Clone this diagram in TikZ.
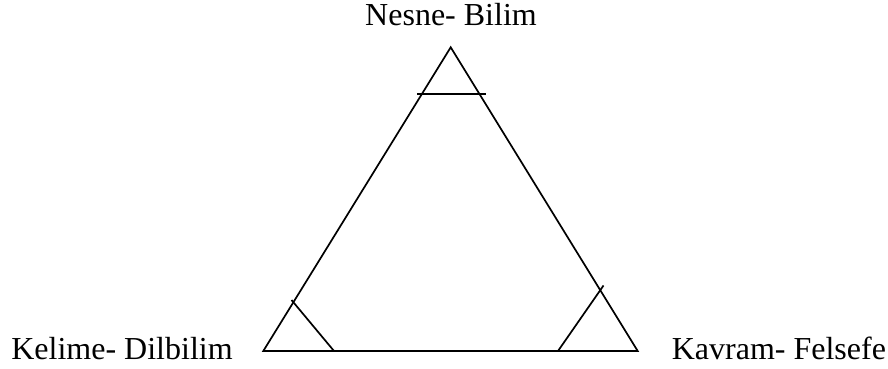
\documentclass[tikz,border=0pt]{standalone}
\usepackage{fontspec}
\setmainfont{Liberation Serif}
\usepackage{tikz}
\usetikzlibrary{positioning}

\begin{document}
\begin{tikzpicture}[x=1pt, y=-1pt, line width=1.7pt,
    term/.style={font=\fontsize{32}{37}\selectfont, inner sep=0pt}]
    \useasboundingbox (0,0) rectangle (888,369);
    % corners of the triangle
    \coordinate (apex) at (450.7,47.3);
    \coordinate (lcorner) at (263.3,351);
    \coordinate (rcorner) at (637.7,351);
    \draw[line join=miter] (apex) -- (lcorner) -- (rcorner) -- cycle;
    % small corner marks
    \coordinate (topA) at (417,94);
    \coordinate (topB) at (486,94);
    \draw (topA) -- (topB);
    \coordinate (leftA) at (291.5,300);
    \coordinate (leftB) at (334,351);
    \draw (leftA) -- (leftB);
    \coordinate (rightA) at (603.5,285.5);
    \coordinate (rightB) at (558,351);
    \draw (rightA) -- (rightB);
    % names of the corners
    \node[term, anchor=base] (nesne) at (451,26) {Nesne- Bilim};
    \node[term, anchor=base west] (kelime) at (10.5,359) {Kelime- Dilbilim};
    \node[term, anchor=base west] (kavram) at (671,359) {Kavram- Felsefe};
\end{tikzpicture}
\end{document}
